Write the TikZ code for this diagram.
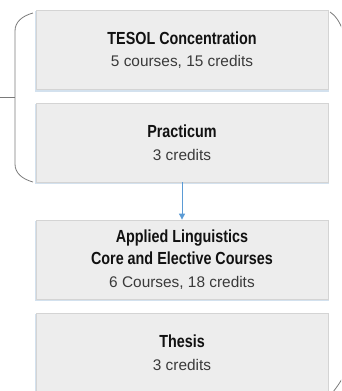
\documentclass[tikz,border=0pt]{standalone}
\usepackage{fontspec}
\setmainfont{Liberation Sans}
\newfontfamily\titlefont{Liberation Sans}[FakeStretch=0.82]
\usetikzlibrary{arrows.meta}
\definecolor{boxfill}{HTML}{EDEDED}
\definecolor{boxline}{HTML}{D4D4D4}
\definecolor{shade}{HTML}{D3E1EE}
\definecolor{brack}{HTML}{7A7A7A}
\definecolor{arrowblue}{HTML}{5B9BD5}
\definecolor{titlecol}{HTML}{111111}
\definecolor{subcol}{HTML}{3A3A3A}
\newcommand{\ttl}[1]{{\titlefont\bfseries\fontsize{17.5}{22.5}\selectfont\color{titlecol}#1}}
\newcommand{\sbt}[1]{{\fontsize{15.4}{22.5}\selectfont\color{subcol}#1}}
\begin{document}
\begin{tikzpicture}[x=1pt,y=-1pt,
  stepbox/.style={draw=boxline, fill=boxfill, line width=0.8pt, minimum width=292pt,
    inner sep=0pt, align=center, font=\fontsize{15.4}{22.5}\selectfont,
    preaction={draw=shade, line width=1.5pt, transform canvas={yshift=-1.6pt}}},
  brace/.style={draw=brack, line width=0.8pt},
  flow/.style={draw=arrowblue, line width=0.9pt, -{Triangle[length=6pt,width=6pt]}}]
\useasboundingbox (0,0) rectangle (341,391);
\begin{scope}
\clip (0,0) rectangle (341,391);
\node[stepbox, minimum height=79pt] (tesol) at (182,50) {\ttl{TESOL Concentration}\\\sbt{5 courses, 15 credits}};
\node[stepbox, minimum height=79pt] (prac) at (182,142.5) {\ttl{Practicum}\\\sbt{3 credits}};
\node[stepbox, minimum height=79pt] (core) at (182,259.5) {\ttl{Applied Linguistics}\\\ttl{Core and Elective Courses}\\\sbt{6 Courses, 18 credits}};
\node[stepbox, minimum height=79pt] (thesis) at (182,352.5) {\ttl{Thesis}\\\sbt{3 credits}};
\draw[flow] (prac.south) -- (core.north);
\coordinate (btop) at (33,13);
\coordinate (bbot) at (33,182);
\coordinate (bmid) at (15,97);
\coordinate (bin) at (0,97);
\draw[brace] (btop) .. controls (22,16) and (15,22) .. (15,31) -- (15,164) .. controls (15,173) and (22,179) .. (bbot);
\draw[brace] (bin) -- (bmid);
\coordinate (rtop) at (330,12);
\coordinate (rtopend) at (343,31);
\coordinate (rbot) at (333,392);
\coordinate (rbotend) at (343,377);
\draw[brace] (rtop) .. controls (335,15) and (340,22) .. (rtopend);
\draw[brace] (rbot) .. controls (336,388) and (340,383) .. (rbotend);
\end{scope}
\end{tikzpicture}
\end{document}
